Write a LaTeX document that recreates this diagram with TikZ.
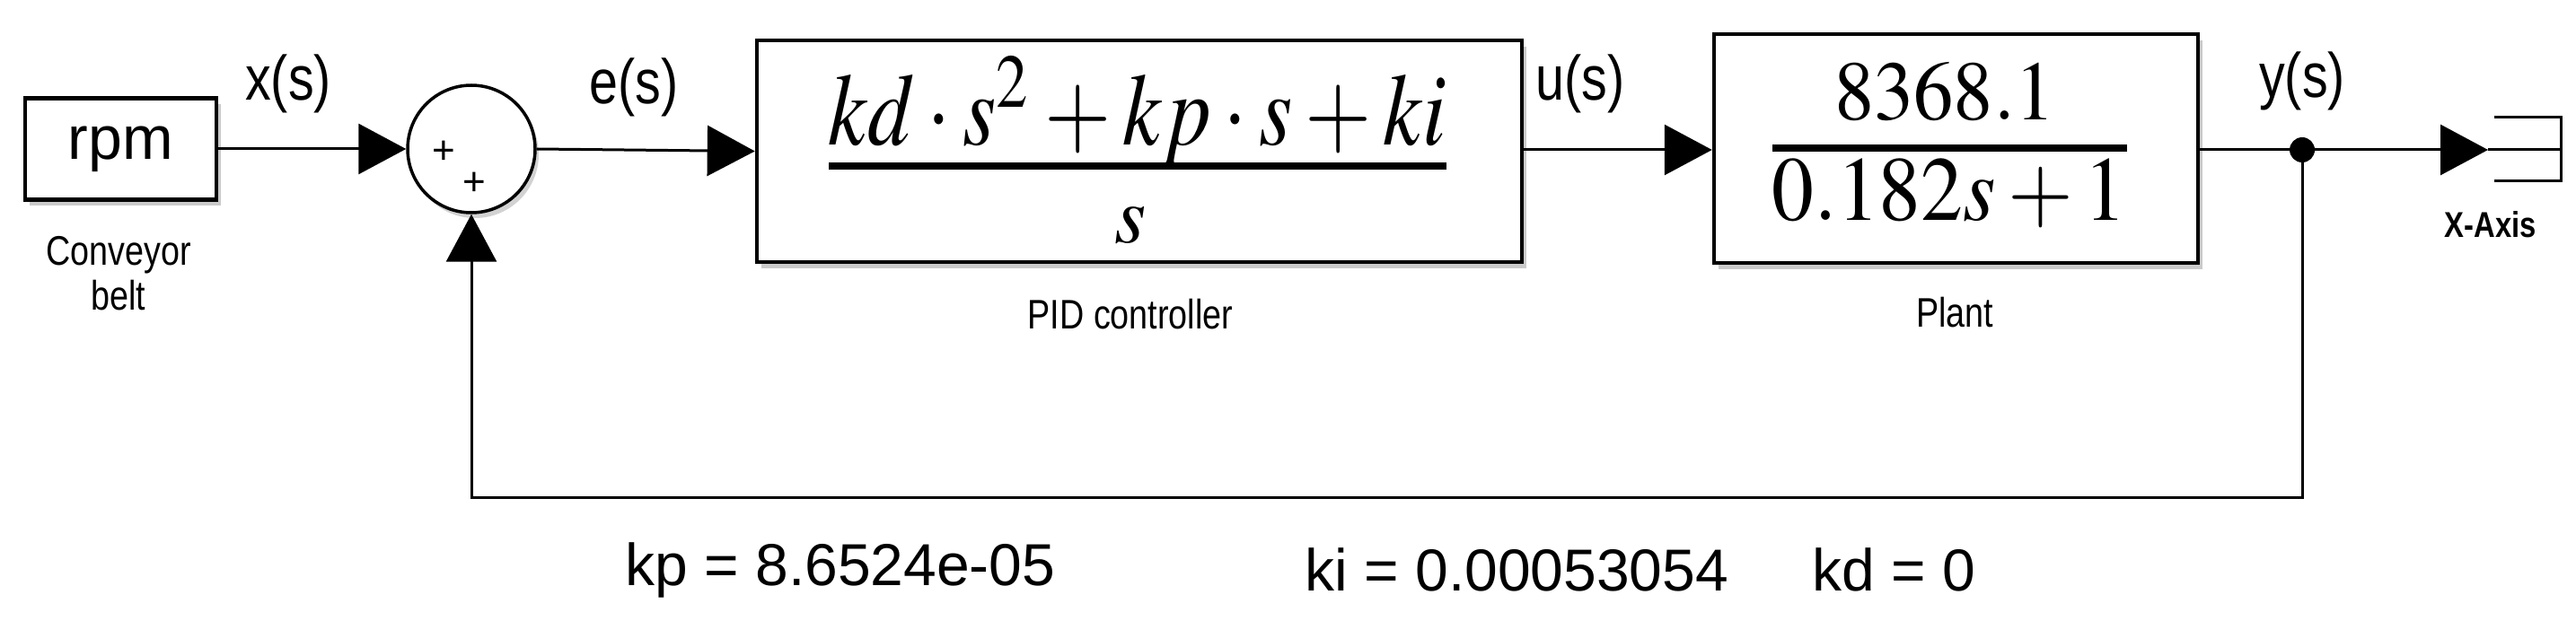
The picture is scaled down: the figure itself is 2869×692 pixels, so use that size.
\documentclass[tikz,border=0pt]{standalone}
\usepackage{mathptmx}
\usepackage[no-math]{fontspec}
\setmainfont{Liberation Sans}
\newfontfamily\narrowf[FakeStretch=0.82]{Liberation Sans}
\usetikzlibrary{arrows.meta,shadows}
\begin{document}
\begin{tikzpicture}[x=1pt,y=-1pt,
  blk/.style={draw,line width=4.5pt,fill=white,rectangle,inner sep=0pt,
    drop shadow={shadow xshift=5pt,shadow yshift=-7pt,fill=black!35,opacity=0.6}},
  wire/.style={line width=3pt},
  arr/.style={wire,-{Triangle[length=53pt,width=56pt]}},
  lbl/.style={font=\narrowf\fontsize{70}{74}\selectfont},
  captxt/.style={font=\narrowf\fontsize{46}{50}\selectfont,align=center},
  gain/.style={font=\fontsize{66}{70}\selectfont,anchor=west},
  bar/.style={line width=8pt}]
\useasboundingbox (0,0) rectangle (2869,692);
% blocks
\node[blk,minimum width=213pt,minimum height=113pt] (rpm) at (134.5,166) {};
\node[font=\fontsize{68}{70}\selectfont] (rpmt) at (134.5,166) {rpm};
\node[draw,circle,line width=3.5pt,fill=white,minimum size=142pt,inner sep=0pt,
  drop shadow={shadow xshift=4pt,shadow yshift=-6pt,fill=black!35,opacity=0.5}] (sum) at (525,166) {};
\node[font=\fontsize{44}{44}\selectfont] (p1) at (494,170) {+};
\node[font=\fontsize{44}{44}\selectfont] (p2) at (528,205) {+};
\node[blk,minimum width=852pt,minimum height=247pt] (pid) at (1269,168.5) {};
\node[blk,minimum width=539pt,minimum height=255pt] (plant) at (2178.5,165.5) {};
% fractions
\node[inner sep=0pt] (pidn) at (1267,124) {\resizebox{688pt}{98pt}{$kd\cdot s^2+kp\cdot s+ki$}};
\node[inner sep=0pt] (pidd) at (1259,251) {\resizebox{!}{40pt}{$s$}};
\draw[bar] (923,185) -- (1611,185);
\node[inner sep=0pt] (pln) at (2166,102) {\resizebox{246pt}{64pt}{$8368.1$}};
\node[inner sep=0pt] (pld) at (2171,216) {\resizebox{395pt}{68pt}{$0.182s+1$}};
\draw[bar] (1974,165) -- (2369,165);
% captions
\node[captxt] (c1) at (132,305) {Conveyor\\belt};
\node[captxt] (c2) at (1259,350) {PID controller};
\node[captxt] (c3) at (2177,348) {Plant};
\node[captxt,font=\narrowf\bfseries\fontsize{40}{44}\selectfont] (c4) at (2774,250) {X-Axis};
% signal labels
\node[lbl] (lx) at (321,93) {x(s)};
\node[lbl] (le) at (706,97) {e(s)};
\node[lbl] (lu) at (1760,93) {u(s)};
\node[lbl] (ly) at (2564,90) {y(s)};
% junction and scope
\coordinate (jn) at (2564,167);
\coordinate (sc) at (2771,167);
\coordinate (fb1) at (2564,554);
\coordinate (fb2) at (525,554);
\fill (jn) circle (14pt);
\draw[wire] (sc) -- (2852,167);
\draw[wire,line cap=rect] (2779,131) -- (2852,131) -- (2852,202) -- (2779,202);
% connectors
\draw[arr] (rpm.east) -- (sum.west);
\draw[arr] (sum.east) -- (pid.west);
\draw[arr] (pid.east |- 0,167) -- (plant.west |- 0,167);
\draw[wire] (plant.east |- 0,167) -- (jn);
\draw[arr] (jn) -- (sc);
\draw[arr] (jn) -- (fb1) -- (fb2) -- (sum.south);
% gains
\node[gain] (kp) at (693,635) {kp = 8.6524e-05};
\node[gain] (ki) at (1450,635) {ki = 0.00053054};
\node[gain] (kd) at (2015,635) {kd = 0};
\end{tikzpicture}
\end{document}
